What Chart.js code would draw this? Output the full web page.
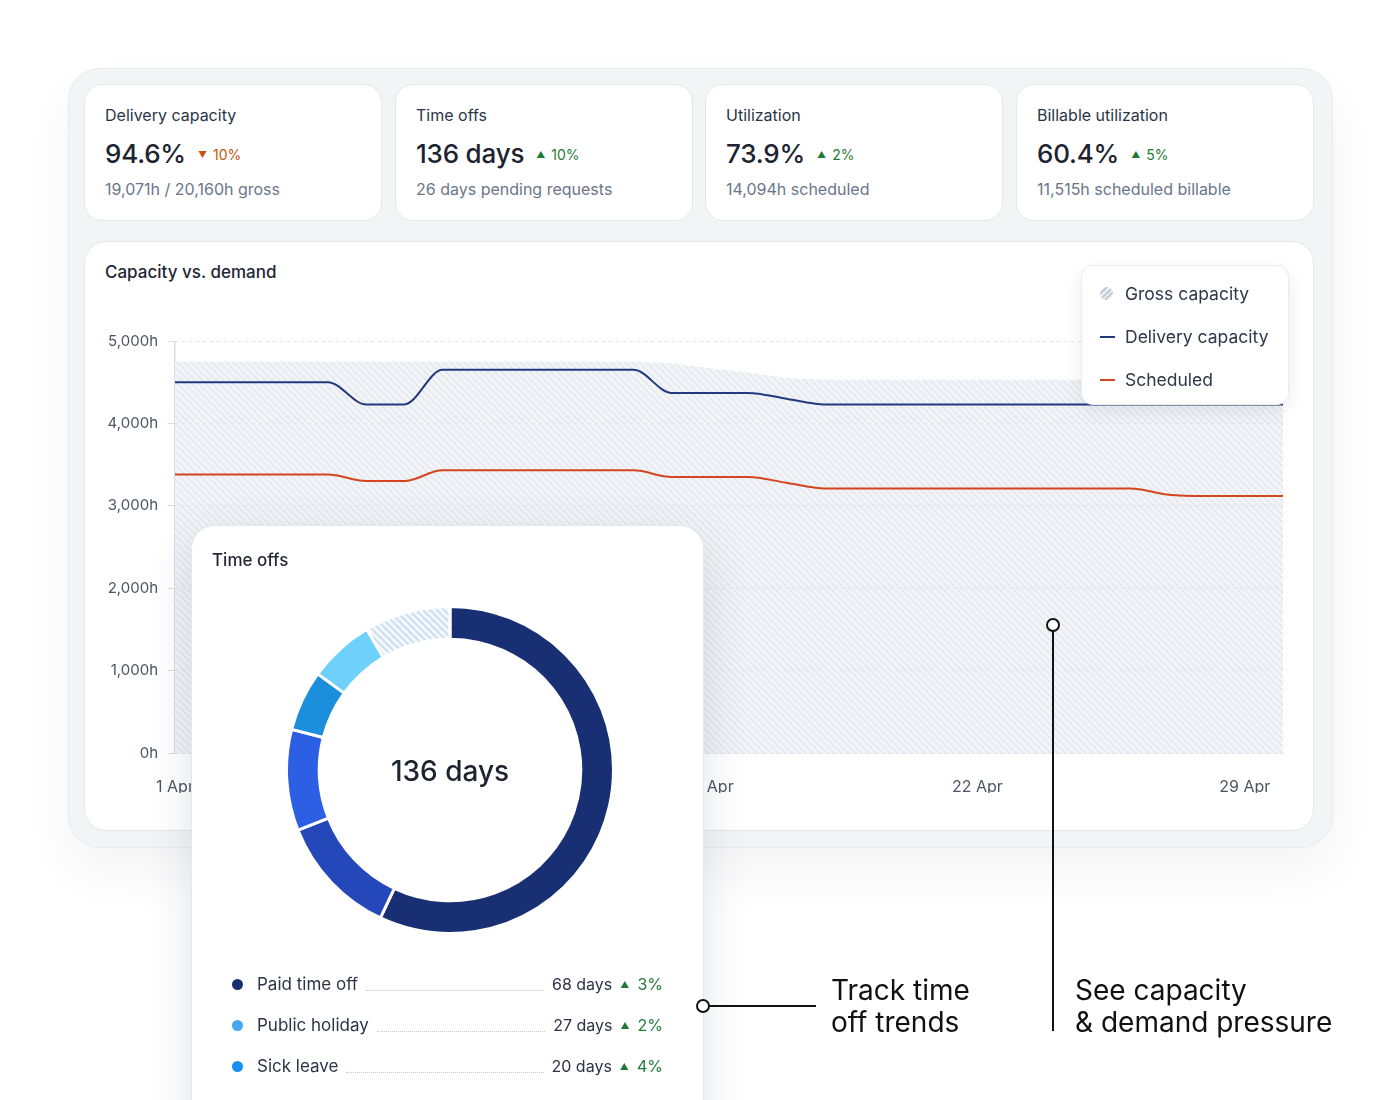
<!DOCTYPE html>
<html>
<head>
<meta charset="utf-8">
<script src="https://cdn.jsdelivr.net/npm/chart.js@4/dist/chart.umd.min.js"></script>
<style>
  html, body { margin: 0; padding: 0; background: #fff; }
  body { width: 1400px; height: 1100px; position: relative; overflow: hidden; font-family: Inter, "Noto Sans", sans-serif; color: #273142; }
  .abs { position: absolute; }
  .panel { left: 68px; top: 68px; width: 1263px; height: 778px; background: #f3f4f6; border: 1px solid #e8eaee; border-radius: 32px; box-shadow: 0 24px 50px rgba(30, 40, 60, 0.05); }
  .card { background: #fff; border: 1px solid #e5e7eb; border-radius: 18px; box-sizing: border-box; }
  .kpi { top: 84px; width: 298px; height: 137px; }
  .kpi .t { position: absolute; left: 20px; top: 20px; font-size: 16px; line-height: 20px; color: #2b3547; }
  .kpi .v { position: absolute; left: 20px; top: 52px; font-size: 26px; line-height: 34px; font-weight: 500; color: #1d2430; white-space: nowrap; letter-spacing: -0.2px; }
  .kpi .d { font-size: 14px; font-weight: 400; margin-left: 12px; vertical-align: 3px; letter-spacing: 0; }
  .kpi .d .tri { font-size: 9px; margin-right: 6px; vertical-align: 2px; }
  .up { color: #1f7a35; }
  .down { color: #c4540f; }
  .kpi .s { position: absolute; left: 20px; top: 94px; font-size: 16px; line-height: 20px; color: #6b7689; }
  .chartcard { left: 84px; top: 241px; width: 1230px; height: 590px; border-radius: 22px; }
  .chartcard .t { position: absolute; left: 20px; top: 20px; font-size: 17px; line-height: 20px; font-weight: 500; color: #1f2633; }
  #lineWrap { left: 95px; top: 322px; width: 1213px; height: 471px; }
  .legend { left: 1081px; top: 265px; width: 208px; height: 140px; background: #fff; border: 1px solid #e8eaee; border-radius: 12px; box-sizing: border-box; box-shadow: 0 6px 18px rgba(20, 30, 50, 0.08); }
  .legend .it { position: absolute; left: 43px; font-size: 17.5px; line-height: 20px; color: #2d3748; white-space: nowrap; }
  .legend .ic { position: absolute; left: -25px; top: 9px; width: 15px; height: 2px; }
  .legend .ic.hatch { top: 3px; width: 13px; height: 13px; border-radius: 50%; background: repeating-linear-gradient(135deg, #c3cad6 0 2px, #eef1f5 2px 4px); }
  .donutcard { left: 191px; top: 525px; width: 513px; height: 640px; border-radius: 24px; box-shadow: 0 16px 48px rgba(20, 30, 60, 0.12); z-index: 5; }
  .donutcard .t { position: absolute; left: 20px; top: 24px; font-size: 17px; line-height: 20px; font-weight: 500; color: #1f2633; }
  #donutWrap { left: 93px; top: 79px; width: 330px; height: 330px; }
  .center { left: 93px; top: 228px; width: 330px; text-align: center; font-size: 28px; line-height: 34px; font-weight: 500; color: #1d2430; }
  .row { position: absolute; left: 40px; width: 431px; height: 22px; display: flex; align-items: center; font-size: 17px; color: #2b3445; white-space: nowrap; }
  .row .dot { width: 11px; height: 11px; border-radius: 50%; margin-right: 14px; flex: none; }
  .row .lead { flex: 1; height: 0; border-top: 1.5px dotted #c6cbd3; margin: 12px 8px 0 8px; }
  .row .num { font-size: 16px; color: #2b3445; }
  .row .tri { font-size: 9px; margin: 0 8px 0 8px; color: #1f7a35; }
  .row .pct { font-size: 16px; color: #1f7a35; }
  .note { font-size: 28px; line-height: 32px; color: #111; font-weight: 400; z-index: 11; white-space: nowrap; }
  svg.over { position: absolute; left: 0; top: 0; z-index: 10; }
</style>
</head>
<body>
<div class="abs panel"></div>

<div id="kpis"></div>

<div class="abs card chartcard"><div class="t">Capacity vs. demand</div></div>
<div class="abs" id="lineWrap"><canvas id="lineChart"></canvas></div>
<div class="abs legend" id="legend"></div>

<div class="abs card donutcard">
  <div class="t">Time offs</div>
  <div class="abs" id="donutWrap"><canvas id="donutChart"></canvas></div>
  <div class="abs center">136 days</div>
  <div id="rows"></div>
</div>

<svg class="over" width="1400" height="1100">
  <line x1="709" y1="1006" x2="816" y2="1006" stroke="#111" stroke-width="2"/>
  <circle cx="703" cy="1006" r="6" fill="#fff" stroke="#111" stroke-width="2"/>
  <line x1="1053" y1="631" x2="1053" y2="1031" stroke="#111" stroke-width="2"/>
  <circle cx="1053" cy="625" r="6" fill="#fff" stroke="#111" stroke-width="2"/>
</svg>
<div class="abs note" style="left:831px; top:974px;">Track time<br>off trends</div>
<div class="abs note" style="left:1075px; top:974px;">See capacity<br>&amp; demand pressure</div>

<script>
// KPI cards
const kpiTitles = ["Delivery capacity", "Time offs", "Utilization", "Billable utilization"];
const kpiValues = ["94.6%", "136 days", "73.9%", "60.4%"];
const kpiDeltas = ["10%", "10%", "2%", "5%"];
const kpiTrend = ["down", "up", "up", "up"];
const kpiNotes = ["19,071h / 20,160h gross", "26 days pending requests", "14,094h scheduled", "11,515h scheduled billable"];

// capacity vs demand, daily through April
const days = ["1 Apr", "2 Apr", "3 Apr", "4 Apr", "5 Apr", "6 Apr", "7 Apr", "8 Apr", "9 Apr", "10 Apr",
  "11 Apr", "12 Apr", "13 Apr", "14 Apr", "15 Apr", "16 Apr", "17 Apr", "18 Apr", "19 Apr", "20 Apr",
  "21 Apr", "22 Apr", "23 Apr", "24 Apr", "25 Apr", "26 Apr", "27 Apr", "28 Apr", "29 Apr", "30 Apr"];
const grossCapacity = [4750, 4750, 4750, 4750, 4750, 4750, 4750, 4750, 4750, 4750,
  4750, 4750, 4750, 4730, 4670, 4615, 4555, 4530, 4530, 4530,
  4530, 4530, 4530, 4530, 4530, 4530, 4530, 4530, 4530, 4530];
const deliveryCapacity = [4500, 4500, 4500, 4500, 4500, 4230, 4230, 4650, 4650, 4650,
  4650, 4650, 4650, 4370, 4370, 4370, 4300, 4230, 4230, 4230,
  4230, 4230, 4230, 4230, 4230, 4230, 4230, 4230, 4230, 4230];
const scheduled = [3380, 3380, 3380, 3380, 3380, 3300, 3300, 3430, 3430, 3430,
  3430, 3430, 3430, 3350, 3350, 3350, 3280, 3210, 3210, 3210,
  3210, 3210, 3210, 3210, 3210, 3210, 3135, 3120, 3120, 3120];
const seriesNames = ["Gross capacity", "Delivery capacity", "Scheduled"];
const yTicks = [0, 1000, 2000, 3000, 4000, 5000];

// time offs donut (share of ring, %) and list
const timeOffTypes = ["Paid time off", "Parental leave", "Unpaid leave", "Sick leave", "Public holiday", "Pending"];
const timeOffShare = [57, 12, 10, 6, 6.5, 8.5];
const listNames = ["Paid time off", "Public holiday", "Sick leave"];
const listDays = ["68 days", "27 days", "20 days"];
const listDeltas = ["3%", "2%", "4%"];

const kpiLefts = [84, 395, 705, 1016];
let html = "";
kpiTitles.forEach((t, i) => {
  html += `<div class="abs card kpi" style="left:${kpiLefts[i]}px">
    <div class="t">${t}</div>
    <div class="v">${kpiValues[i]}<span class="d ${kpiTrend[i]}"><span class="tri">${kpiTrend[i] == "up" ? "▲" : "▼"}</span>${kpiDeltas[i]}</span></div>
    <div class="s">${kpiNotes[i]}</div></div>`;
});
document.getElementById("kpis").innerHTML = html;

const navy = "#22397c";
const orange = "#d4451f";
const axisColor = "#d9dde5";

function hatch(bg, stripe, size, w) {
  const c = document.createElement("canvas");
  c.width = size; c.height = size;
  const x = c.getContext("2d");
  x.fillStyle = bg;
  x.fillRect(0, 0, size, size);
  x.strokeStyle = stripe;
  x.lineWidth = w;
  x.beginPath();
  x.moveTo(-1, -1); x.lineTo(size + 1, size + 1);
  x.moveTo(-1, size - 1); x.lineTo(1, size + 1);
  x.moveTo(size - 1, -1); x.lineTo(size + 1, 1);
  x.stroke();
  return x.createPattern(c, "repeat");
}

const legendIcons = ["hatch", navy, orange];
let lg = "";
seriesNames.forEach((n, i) => {
  const ic = legendIcons[i] == "hatch" ? `<span class="ic hatch"></span>` : `<span class="ic" style="background:${legendIcons[i]}"></span>`;
  lg += `<div class="it" style="top:${18 + i * 43}px">${ic}${n}</div>`;
});
document.getElementById("legend").innerHTML = lg;

new Chart(document.getElementById("lineChart"), {
  type: "line",
  data: {
    labels: days,
    datasets: [
      { label: seriesNames[1], data: deliveryCapacity, borderColor: navy, borderWidth: 2, pointRadius: 0, cubicInterpolationMode: "monotone", fill: false, order: 1 },
      { label: seriesNames[2], data: scheduled, borderColor: orange, borderWidth: 2, pointRadius: 0, cubicInterpolationMode: "monotone", fill: false, order: 2 },
      { label: seriesNames[0], data: grossCapacity, borderWidth: 0, pointRadius: 0, tension: 0, fill: "origin", backgroundColor: hatch("#f2f4f7", "#e2e6ec", 7, 1.4), order: 3 }
    ]
  },
  options: {
    responsive: true,
    maintainAspectRatio: false,
    animation: false,
    layout: { padding: 0 },
    plugins: { legend: { display: false }, tooltip: { enabled: false } },
    scales: {
      x: {
        // only the first vertical line is drawn: it stands in for the y axis
        grid: { drawTicks: false, lineWidth: 1.5, color: c => c.index === 0 ? axisColor : "transparent" },
        border: { color: axisColor, width: 1.5 },
        ticks: {
          autoSkip: false, maxRotation: 0, padding: 25,
          color: "#4b5563", font: { family: "Inter", size: 16 },
          callback(value, index) { return index % 7 === 0 ? this.getLabelForValue(value) : ""; }
        },
        afterFit(scale) { scale.height = 40; }
      },
      y: {
        min: yTicks[0], max: yTicks[yTicks.length - 1],
        afterBuildTicks(scale) { scale.ticks = yTicks.map(v => ({ value: v })); },
        grid: { color: "#dfe2e8", tickColor: axisColor, tickLength: 7, z: 1 },
        border: { display: false, dash: [3, 4] },
        ticks: {
          padding: 10, color: "#4b5563", font: { family: "Inter", size: 15 },
          callback: v => v.toLocaleString("en-US") + "h"
        },
        afterFit(scale) { scale.width = 80; }
      }
    }
  }
});

new Chart(document.getElementById("donutChart"), {
  type: "doughnut",
  data: {
    labels: timeOffTypes,
    datasets: [{
      data: timeOffShare,
      backgroundColor: ["#182f73", "#2447b9", "#2c5fe4", "#1b8fdc", "#6fd1fb", hatch("#f4f8fd", "#c2dcf4", 7, 1.6)],
      borderColor: "#fff",
      borderWidth: 3
    }]
  },
  options: {
    responsive: true,
    maintainAspectRatio: false,
    animation: false,
    cutout: "80%",
    plugins: { legend: { display: false }, tooltip: { enabled: false } }
  }
});

const dotColors = ["#1a2f72", "#45a6f2", "#1690f0"];
let rows = "";
listNames.forEach((n, i) => {
  rows += `<div class="row" style="top:${447 + i * 41}px"><span class="dot" style="background:${dotColors[i]}"></span>${n}<span class="lead"></span><span class="num">${listDays[i]}</span><span class="tri">▲</span><span class="pct">${listDeltas[i]}</span></div>`;
});
document.getElementById("rows").innerHTML = rows;
</script>
</body>
</html>
